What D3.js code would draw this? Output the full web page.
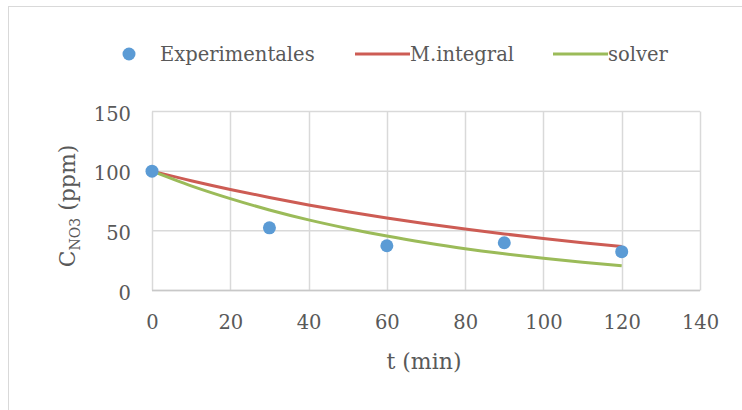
<!DOCTYPE html>
<html>
<head>
<meta charset="utf-8">
<script src="https://cdn.jsdelivr.net/npm/d3@7"></script>
<style>
  body { margin: 0; background: #fff; }
  text { font-family: "DejaVu Serif", "Liberation Serif", serif; fill: #595959; }
</style>
</head>
<body>
<div id="chart"></div>
<script>
// measured points
var expT = [0, 30, 60, 90, 120];
var expC = [100, 52.5, 37.5, 40, 32.5];

// fitted curves (every 10 min)
var fitT = [0, 10, 20, 30, 40, 50, 60, 70, 80, 90, 100, 110, 120];
var integralC = [100, 92, 84.7, 78, 71.7, 66, 60.8, 56, 51.5, 47.4, 43.6, 40.1, 36.9];
var solverC = [100, 87.7, 77, 67.5, 59.2, 52, 45.6, 40, 35, 30.8, 27, 23.7, 20.7];

var xTicks = [0, 20, 40, 60, 80, 100, 120, 140];
var yTicks = [0, 50, 100, 150];
var legendNames = ["Experimentales", "M.integral", "solver"];

var W = 742, H = 410;
var margin = { top: 111.5, right: 42, bottom: 119.5, left: 152 };
var width = W - margin.left - margin.right,
    height = H - margin.top - margin.bottom;

var svg = d3.select("#chart").append("svg")
    .attr("width", W)
    .attr("height", H);

// chart frame
svg.append("rect")
    .attr("x", 8.5).attr("y", 6.5)
    .attr("width", W + 20).attr("height", H + 20)
    .attr("fill", "none")
    .attr("stroke", "#d9d9d9");

var g = svg.append("g")
    .attr("transform", "translate(" + margin.left + "," + margin.top + ")");

var x = d3.scaleLinear().domain([0, 140]).range([0, width]);
var y = d3.scaleLinear().domain([0, 150]).range([height, 0]);

// grid
g.selectAll(".vgrid").data(xTicks).enter().append("line")
    .attr("x1", function (d) { return Math.round(x(d)) + 0.5; })
    .attr("x2", function (d) { return Math.round(x(d)) + 0.5; })
    .attr("y1", 0).attr("y2", height)
    .attr("stroke", "#d9d9d9").attr("stroke-width", 1.5);

g.selectAll(".hgrid").data(yTicks).enter().append("line")
    .attr("x1", 0).attr("x2", width)
    .attr("y1", function (d) { return y(d); })
    .attr("y2", function (d) { return y(d); })
    .attr("stroke", "#d9d9d9").attr("stroke-width", 1.5);

// axes
var xAxis = g.append("g")
    .attr("transform", "translate(0," + height + ")")
    .call(d3.axisBottom(x).tickValues(xTicks).tickSize(0).tickPadding(25));
var yAxis = g.append("g")
    .call(d3.axisLeft(y).tickValues(yTicks).tickSize(0).tickPadding(21));

[xAxis, yAxis].forEach(function (a) {
    a.selectAll("text")
        .style("font-family", "DejaVu Serif, Liberation Serif, serif")
        .style("font-size", "19.5px")
        .attr("fill", "#595959");
});
yAxis.selectAll("text").attr("dy", "0.45em");
yAxis.select(".domain").remove();
xAxis.select(".domain").attr("d", "M0,0H" + width)
    .attr("stroke", "#c8c8c8").attr("stroke-width", 1.5);

// curves
var line = d3.line()
    .x(function (d) { return x(d[0]); })
    .y(function (d) { return y(d[1]); })
    .curve(d3.curveMonotoneX);

g.append("path")
    .datum(d3.zip(fitT, integralC))
    .attr("d", line)
    .attr("fill", "none")
    .attr("stroke", "#cd5c54")
    .attr("stroke-width", 3);

g.append("path")
    .datum(d3.zip(fitT, solverC))
    .attr("d", line)
    .attr("fill", "none")
    .attr("stroke", "#9bbb59")
    .attr("stroke-width", 3);

g.selectAll(".pt").data(d3.zip(expT, expC)).enter().append("circle")
    .attr("cx", function (d) { return x(d[0]); })
    .attr("cy", function (d) { return y(d[1]); })
    .attr("r", 6.5)
    .attr("fill", "#5b9bd5");

// axis titles
svg.append("text")
    .attr("x", 424).attr("y", 369)
    .attr("text-anchor", "middle")
    .style("font-size", "22px")
    .text("t (min)");

var yt = svg.append("text")
    .attr("transform", "translate(75,206) rotate(-90)")
    .attr("text-anchor", "middle")
    .style("font-size", "22px");
yt.append("tspan").text("C");
yt.append("tspan").attr("dy", 5).style("font-size", "14px").text("NO3");
yt.append("tspan").attr("dy", -5).text(" (ppm)");

// legend
var leg = svg.append("g");
leg.append("circle").attr("cx", 129).attr("cy", 54).attr("r", 6.5).attr("fill", "#5b9bd5");
leg.append("text").attr("x", 160).attr("y", 61).style("font-size", "19.5px").text(legendNames[0]);
leg.append("line").attr("x1", 355).attr("x2", 410).attr("y1", 54).attr("y2", 54)
    .attr("stroke", "#cd5c54").attr("stroke-width", 3);
leg.append("text").attr("x", 410).attr("y", 61).style("font-size", "19.5px").text(legendNames[1]);
leg.append("line").attr("x1", 553).attr("x2", 608).attr("y1", 54).attr("y2", 54)
    .attr("stroke", "#9bbb59").attr("stroke-width", 3);
leg.append("text").attr("x", 608).attr("y", 61).style("font-size", "19.5px").text(legendNames[2]);
</script>
</body>
</html>
